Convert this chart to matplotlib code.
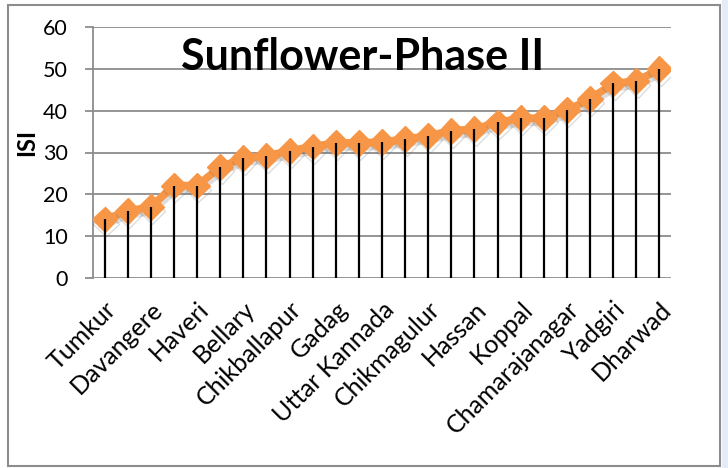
import numpy as np
import matplotlib
matplotlib.use("Agg")
from matplotlib import pyplot as plt
from matplotlib import patheffects as pe
from matplotlib.patches import Rectangle

# districts (only every other one is labelled on the chart)
districts = ['Tumkur', 'Chitradurga', 'Davangere', 'Bagalkot', 'Haveri', 'Mysore',
             'Bellary', 'Bijapur', 'Chikballapur', 'Raichur', 'Gadag', 'Gulbarga',
             'Uttar Kannada', 'Belgaum', 'Chikmagulur', 'Mandya', 'Hassan', 'Kolar',
             'Koppal', 'Bidar', 'Chamarajanagar', 'Shimoga', 'Yadgiri', 'Ramanagara',
             'Dharwad']
isi = [14.0, 16.0, 17.0, 22.1, 22.1, 26.5, 28.7, 29.2, 30.4, 31.4, 32.3, 32.3, 32.5,
       33.2, 34.0, 35.2, 35.6, 37.2, 38.2, 38.2, 40.1, 42.8, 46.5, 47.1, 49.9]
yticks = [0, 10, 20, 30, 40, 50, 60]

plt.rcParams['font.family'] = ['Lato', 'DejaVu Sans']

fig = plt.figure(figsize=(7.28, 4.68), dpi=100)
ax = fig.add_axes([93 / 728, 1 - 278 / 468, 578 / 728, 251 / 468])

x = np.arange(len(districts))
grid_col = '#8c8c8c'

ax.set_ylim(0, 60)
ax.set_xlim(-0.5, len(districts) - 0.5)
ax.set_yticks(yticks)
ax.set_yticklabels([str(v) for v in yticks], fontsize=15.5)
ax.yaxis.grid(True, color=grid_col, linewidth=1.3)
ax.set_axisbelow(True)
ax.tick_params(axis='y', length=6, width=1.3, color=grid_col, pad=12)

ax.set_xticks(x[::2])
ax.set_xticklabels(districts[::2], rotation=45, ha='right', rotation_mode='anchor',
                   fontsize=18)
ax.tick_params(axis='x', length=0, pad=14)

for s in ['top', 'right', 'bottom']:
    ax.spines[s].set_visible(False)
ax.spines['left'].set_color(grid_col)
ax.spines['left'].set_linewidth(1.3)

ax.plot(x, isi, color='#f79646', linewidth=5.5, marker='D', markersize=13,
        markeredgecolor='#f79646', zorder=3,
        path_effects=[pe.SimpleLineShadow(offset=(1, -3), shadow_color='#666666', alpha=0.22),
                      pe.Normal()])
ax.vlines(x, 0, isi, color='black', linewidth=1.6, zorder=4)

ax.set_ylabel('ISI', fontsize=17, fontweight='bold', labelpad=0)
ax.yaxis.set_label_coords(-0.095, 0.538)

fig.text(363 / 728, 1 - 70 / 468, 'Sunflower-Phase II', fontsize=31, fontweight='bold',
         ha='center', va='baseline')

# page strip on the right and chart border
fig.patches.append(Rectangle((722 / 728, 0), 6 / 728, 1, transform=fig.transFigure,
                             facecolor='#e4ecf8', edgecolor='none'))
fig.patches.append(Rectangle((8 / 728, 2.5 / 468), 712 / 728, 461 / 468, transform=fig.transFigure,
                             fill=False, edgecolor='#8c8c8c', linewidth=1.5))

fig.savefig('out.png', dpi=100)
